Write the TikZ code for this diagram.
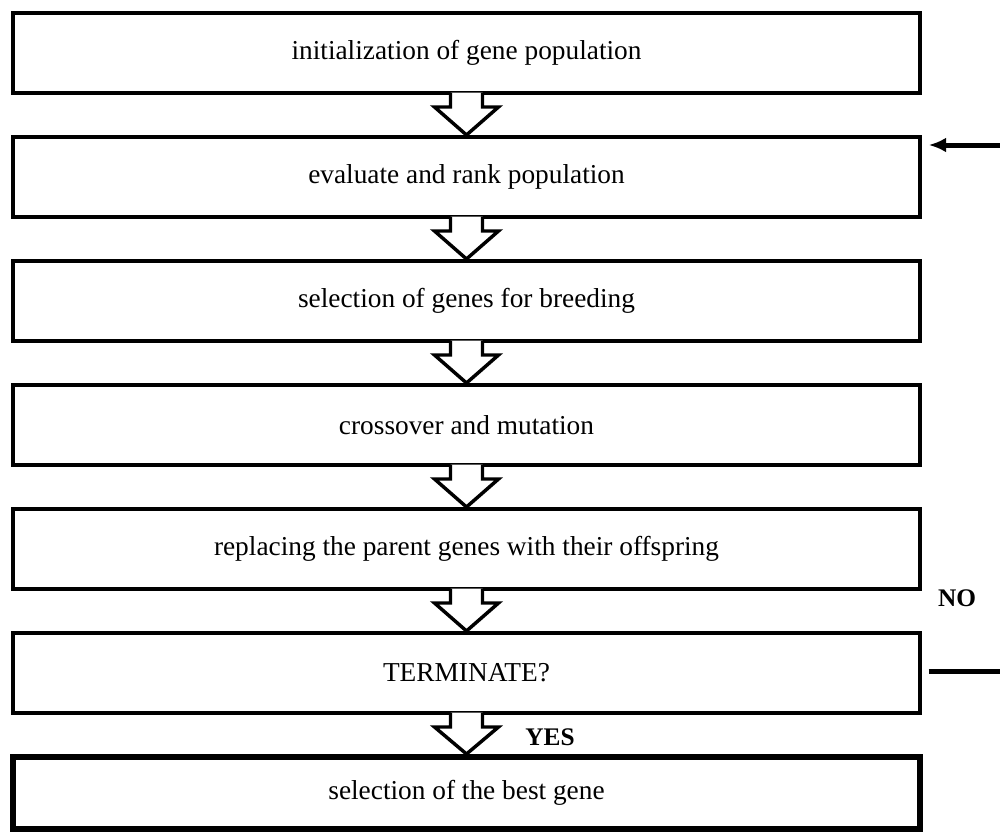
\documentclass[tikz,border=0pt]{standalone}
\usepackage{fontspec}
\setmainfont{Liberation Serif}
\usepackage{tikz}
\usetikzlibrary{calc,arrows.meta}
\tikzset{every picture/.style={line width=0.75pt}}

\begin{document}
\begin{tikzpicture}[x=0.75pt,y=0.75pt,yscale=-1,xscale=1,
	stepbox/.style={draw, line width=3pt, minimum width=680.25pt, minimum height=60pt, inner sep=0pt, font=\fontsize{20.5}{24}\selectfont},
	hollowarrow/.style={draw, fill=white, line width=2.6pt, line join=miter},
	flowline/.style={line width=3.75pt},
	answer/.style={font=\fontsize{19}{22}\selectfont\bfseries}]
		\useasboundingbox (0,0) rectangle (1000,832);
		
		% Boxes
		\node [stepbox] (init) at (466.5,53) {initialization of gene population};
		\node [stepbox] (rank) at (466.5,177) {evaluate and rank population};
		\node [stepbox] (select) at (466.5,301) {selection of genes for breeding};
		\node [stepbox] (cross) at (466.5,425) {crossover and mutation};
		\node [stepbox] (replace) at (466.5,549) {replacing the parent genes with their offspring};
		\node [stepbox] (term) at (466.5,673) {TERMINATE?};
		\node [stepbox, line width=4.5pt, minimum height=54pt] (best) at (466.5,793) {selection of the best gene};
		
		%Hollow arrows between boxes
		\foreach \a/\b in {init/rank,rank/select,select/cross,cross/replace,replace/term,term/best}
		{
		\draw [hollowarrow] ($(\a.south)+(-16,-2.5)$) -- ++(0,14.5) -- ++(-16,0) -- (\b.north) -- ($(\a.south)+(32,12)$) -- ++(-16,0) -- ++(0,-14.5) ;
		}
		
		%Feedback lines
		\coordinate (loopin) at (1000,145);
		\coordinate (loopout) at (1000,671);
		\draw [flowline, -{Latex[length=13pt,width=11pt]}, shorten >=5pt] (loopin) -- (rank.east |- loopin) ;
		\draw [flowline, shorten <=5pt] (term.east |- loopout) -- (loopout) ;
		
		% Text Node
		\node [answer] (no) at (957,598) {NO};
		% Text Node
		\node [answer] (yes) at (550,737) {YES};
		
\end{tikzpicture}
\end{document}
